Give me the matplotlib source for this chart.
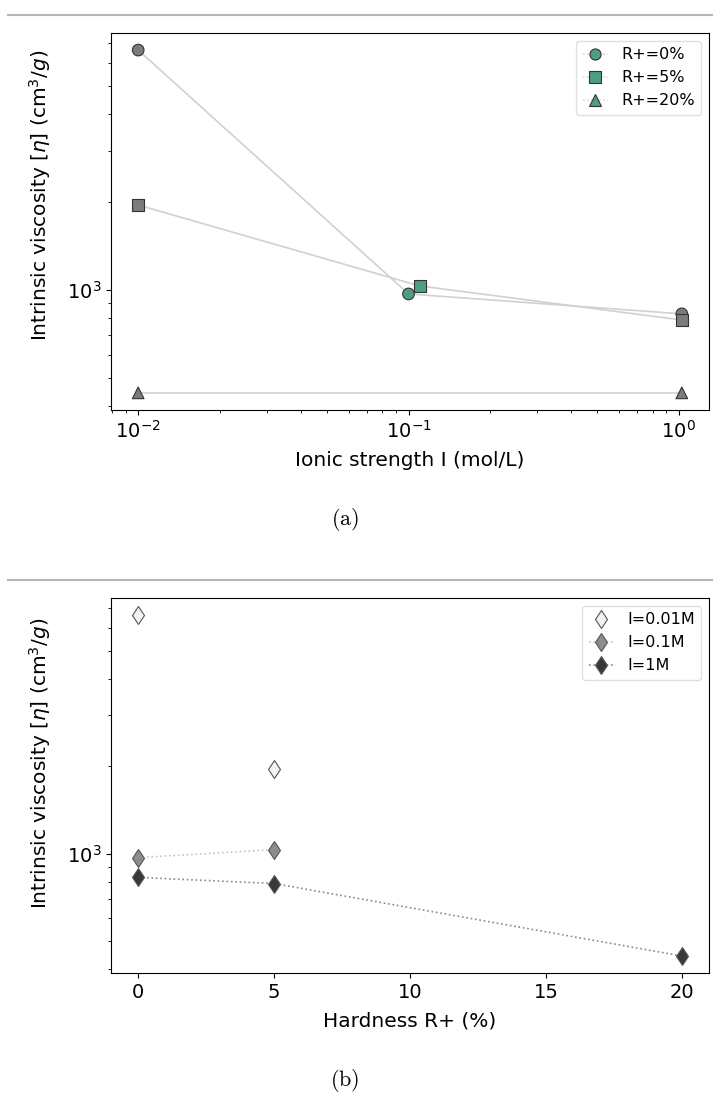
import matplotlib
matplotlib.use('Agg')
import matplotlib.pyplot as plt
from matplotlib.lines import Line2D
from matplotlib.ticker import NullFormatter

# data
ionic_r0 = [0.01, 0.1, 1.026]
visc_r0 = [6637, 969, 828]
ionic_r5 = [0.01, 0.11, 1.026]
visc_r5 = [1955, 1032, 789]
ionic_r20 = [0.01, 1.026]
visc_r20 = [444, 444]

hard_i001 = [0, 5]
visc_i001 = [6637, 1955]
hard_i01 = [0, 5]
visc_i01 = [969, 1032]
hard_i1 = [0, 5, 20]
visc_i1 = [828, 789, 444]

series_a = [
    ('R+=0%', ionic_r0, visc_r0, 'o'),
    ('R+=5%', ionic_r5, visc_r5, 's'),
    ('R+=20%', ionic_r20, visc_r20, '^'),
]
series_b = [
    ('I=0.01M', hard_i001, visc_i001, '#f2f2f2', 'none'),
    ('I=0.1M', hard_i01, visc_i01, '#8c8c8c', '#c4c4c4'),
    ('I=1M', hard_i1, visc_i1, '#383838', '#8a8a8a'),
]

GREEN = '#4e9e82'
GRAY = '#7c7c7c'
LINE = '#cdd3d0'

fig = plt.figure(figsize=(7.13, 10.98), dpi=100)

ylabel = r'Intrinsic viscosity $[\eta]$ (cm$^3/g$)'

# ---- panel (a)
ax1 = fig.add_axes([0.1557, 0.6266, 0.8387, 0.3434])
for label, xs, ys, mk in series_a:
    ax1.plot(xs, ys, color=LINE, lw=1.2, zorder=1)
    # middle ionic strength points are green, the ends gray
    cols = [GREEN if 0.05 < x < 0.5 else GRAY for x in xs]
    ax1.scatter(xs, ys, marker=mk, s=70, c=cols, edgecolors='#333333',
                linewidths=0.8, zorder=3)
    ax1.plot([], [], color=LINE, ls=':', lw=1.1, marker=mk, ms=8,
             mfc=GREEN, mec='#333333', mew=0.8, label=label)
ax1.set_xscale('log')
ax1.set_yscale('log')
ax1.yaxis.set_minor_formatter(NullFormatter())
ax1.set_xlabel('Ionic strength I (mol/L)', fontsize=14.5, labelpad=7)
ax1.set_ylabel(ylabel, fontsize=14.5, labelpad=6)
ax1.yaxis.set_label_coords(-0.097, 0.57)
ax1.tick_params(labelsize=14)
ax1.legend(loc='upper right', fontsize=11.5, handlelength=1.6,
           framealpha=0.9, edgecolor='#dddddd')

# ---- panel (b)
ax2 = fig.add_axes([0.1557, 0.1138, 0.8387, 0.3416])
for label, xs, ys, fc, lc in series_b:
    ax2.plot(xs, ys, color=lc, lw=1.2, ls=':' if lc != 'none' else '-',
             marker='d', ms=9.5, mfc=fc, mec='#555555', mew=0.8,
             label=label)
ax2.set_yscale('log')
ax2.yaxis.set_minor_formatter(NullFormatter())
ax2.set_xticks([0, 5, 10, 15, 20])
ax2.set_xlabel('Hardness R+ (%)', fontsize=14.5, labelpad=7)
ax2.set_ylabel(ylabel, fontsize=14.5, labelpad=6)
ax2.yaxis.set_label_coords(-0.097, 0.56)
ax2.tick_params(labelsize=14)
ax2.legend(loc='upper right', fontsize=11.5, handlelength=1.6,
           framealpha=0.9, edgecolor='#dddddd')

# captions and separator rules
fig.text(0.484, 1 - 520 / 1098, r'$\mathrm{(a)}$', ha='center', va='center',
         fontsize=16, math_fontfamily='cm')
fig.text(0.484, 1 - 1080 / 1098, r'$\mathrm{(b)}$', ha='center', va='center',
         fontsize=16, math_fontfamily='cm')
for yy in (15, 580):
    fig.add_artist(Line2D([8 / 713, 1], [1 - yy / 1098] * 2,
                          color='#b5b5b5', lw=1.5))

fig.savefig('out.png', dpi=100)
